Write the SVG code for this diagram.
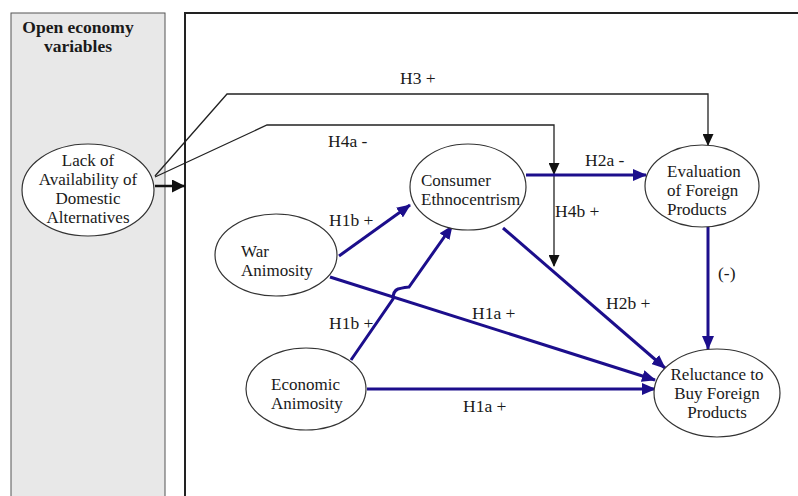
<svg xmlns="http://www.w3.org/2000/svg" width="798" height="496" viewBox="0 0 798 496">
<style>
text{font-family:"Liberation Serif","Times New Roman",serif;fill:#1a1a1a}
.n{font-size:17px}
.lb{font-size:17.5px}
.t{font-size:17.5px;font-weight:bold}
.ell{fill:#fff;stroke:#333;stroke-width:1.2}
.blue{fill:none;stroke:#1c0e8c;stroke-width:3}
.blk{fill:none;stroke:#222;stroke-width:1.3}
</style>
<defs>
<marker id="ab" markerUnits="userSpaceOnUse" markerWidth="14" markerHeight="12" refX="13" refY="6" orient="auto" viewBox="0 0 14 12">
<path d="M0,0 L14,6 L0,12 z" fill="#1c0e8c"/>
</marker>
<marker id="ak" markerUnits="userSpaceOnUse" markerWidth="12" markerHeight="11" refX="11" refY="5.5" orient="auto" viewBox="0 0 12 11">
<path d="M0,0 L12,5.5 L0,11 z" fill="#111"/>
</marker>
<marker id="ak2" markerUnits="userSpaceOnUse" markerWidth="13" markerHeight="13" refX="13" refY="6.5" orient="auto" viewBox="0 0 13 13">
<path d="M0,0 L13,6.5 L0,13 z" fill="#111"/>
</marker>
</defs>
<rect width="798" height="496" fill="#fff"/>
<g id="panel">
<rect x="11" y="13" width="154" height="490" fill="#e8e8e8" stroke="#555" stroke-width="1"/>
<text class="t" x="78" y="33" text-anchor="middle">Open economy</text>
<text class="t" x="78" y="52" text-anchor="middle">variables</text>
</g>
<g id="mainbox">
<path d="M185,500 L185,13 L800,13" fill="none" stroke="#222" stroke-width="2"/>
</g>
<g id="connectors">
<line x1="155" y1="186" x2="185" y2="186" stroke="#111" stroke-width="2.5" marker-end="url(#ak2)"/>
<polyline class="blk" points="155,176 227,94 708,94 708,145" marker-end="url(#ak)"/>
<polyline class="blk" points="155,177 267,125 554,125 554,174" marker-end="url(#ak)"/>
<line class="blk" x1="554" y1="174" x2="554" y2="266" marker-end="url(#ak)"/>
<line class="blue" x1="526" y1="175" x2="646" y2="175" marker-end="url(#ab)"/>
<line class="blue" x1="339" y1="256" x2="410" y2="205" marker-end="url(#ab)"/>
<path class="blue" d="M351,360 L393,299 Q393,291 398,289 Q406,287 409,287 L452,226" marker-end="url(#ab)"/>
<line class="blue" x1="330" y1="277" x2="655" y2="380" marker-end="url(#ab)"/>
<line class="blue" x1="367" y1="389" x2="655" y2="389" marker-end="url(#ab)"/>
<line class="blue" x1="503" y1="228" x2="665" y2="368" marker-end="url(#ab)"/>
<line class="blue" x1="708" y1="227" x2="708" y2="349" marker-end="url(#ab)"/>
</g>
<g id="labels">
<text class="lb" x="400" y="84">H3 +</text>
<text class="lb" x="328" y="147">H4a -</text>
<text class="lb" x="585" y="166">H2a -</text>
<text class="lb" x="555" y="217">H4b +</text>
<text class="lb" x="329" y="226">H1b +</text>
<text class="lb" x="329" y="329">H1b +</text>
<text class="lb" x="472" y="319">H1a +</text>
<text class="lb" x="463" y="412">H1a +</text>
<text class="lb" x="606" y="309">H2b +</text>
<text class="lb" x="718" y="279">(-)</text>
</g>
<g id="lack">
<ellipse class="ell" cx="88" cy="190" rx="66" ry="46"/>
<text class="n" x="88" y="166" text-anchor="middle">Lack of</text>
<text class="n" x="88" y="185" text-anchor="middle">Availability of</text>
<text class="n" x="88" y="204" text-anchor="middle">Domestic</text>
<text class="n" x="88" y="223" text-anchor="middle">Alternatives</text>
</g>
<g id="ethno">
<ellipse class="ell" cx="468" cy="187" rx="58" ry="43"/>
<text class="n" x="421" y="186">Consumer</text>
<text class="n" x="421" y="205">Ethnocentrism</text>
</g>
<g id="eval">
<ellipse class="ell" cx="702" cy="186" rx="57" ry="41"/>
<text class="n" x="667" y="177">Evaluation</text>
<text class="n" x="667" y="196">of Foreign</text>
<text class="n" x="667" y="215">Products</text>
</g>
<g id="war">
<ellipse class="ell" cx="276" cy="255" rx="61" ry="41"/>
<text class="n" x="241" y="257">War</text>
<text class="n" x="241" y="276">Animosity</text>
</g>
<g id="econ">
<ellipse class="ell" cx="306" cy="389" rx="60" ry="41"/>
<text class="n" x="271" y="390">Economic</text>
<text class="n" x="271" y="409">Animosity</text>
</g>
<g id="reluct">
<ellipse class="ell" cx="717" cy="393" rx="63" ry="44"/>
<text class="n" x="717" y="380" text-anchor="middle">Reluctance to</text>
<text class="n" x="717" y="399" text-anchor="middle">Buy Foreign</text>
<text class="n" x="717" y="418" text-anchor="middle">Products</text>
</g>
</svg>
